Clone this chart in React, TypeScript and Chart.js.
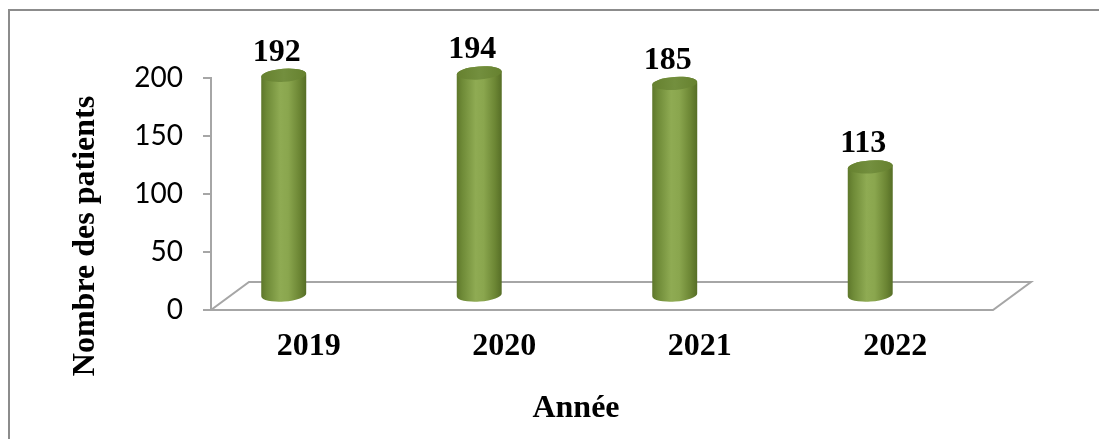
import React, { useEffect, useRef } from "react";
import { Chart, registerables } from "chart.js";

Chart.register(...registerables);

const categories = ["2019", "2020", "2021", "2022"];
const patients = [192, 194, 185, 113];
const yTicks = [0, 50, 100, 150, 200];
const yTitle = "Nombre des patients";
const xTitle = "Année";

const SERIF = "'Liberation Serif', 'Times New Roman', serif";
const SANS = "Lato, 'Open Sans', sans-serif";

const decorPlugin = {
  id: "decor",
  beforeDraw(chart: any) {
    const ctx = chart.ctx;
    ctx.save();
    ctx.fillStyle = "#ffffff";
    ctx.fillRect(0, 0, chart.width, chart.height);
    ctx.strokeStyle = "#8c8c8c";
    ctx.lineWidth = 2;
    ctx.beginPath();
    ctx.moveTo(9, chart.height);
    ctx.lineTo(9, 10);
    ctx.lineTo(chart.width, 10);
    ctx.stroke();
    ctx.restore();
  },
  beforeDatasetsDraw(chart: any) {
    const ctx = chart.ctx;
    const y = chart.scales.y;
    const area = chart.chartArea;
    const y0 = y.getPixelForValue(0);
    const dx = 38, dy = -28;
    ctx.save();
    ctx.strokeStyle = "#a6a6a6";
    ctx.lineWidth = 2;
    ctx.beginPath();
    ctx.moveTo(area.left, y0);
    ctx.lineTo(area.right, y0);
    ctx.lineTo(area.right + dx, y0 + dy);
    ctx.lineTo(area.left + dx, y0 + dy);
    ctx.closePath();
    ctx.stroke();
    ctx.restore();
  },
  afterDatasetsDraw(chart: any) {
    const ctx = chart.ctx;
    const y = chart.scales.y;
    const meta = chart.getDatasetMeta(0);
    const values = chart.data.datasets[0].data as number[];
    const hw = 22.5;
    const ry = 6.5;
    const tilt = -0.07;
    meta.data.forEach((el: any, i: number) => {
      const cx = el.x - 25;
      const topY = y.getPixelForValue(values[i]) - 12;
      const baseY = y.getPixelForValue(0) - 15;
      const g = ctx.createLinearGradient(cx - hw, 0, cx + hw, 0);
      g.addColorStop(0, "#5e772b");
      g.addColorStop(0.12, "#6e8a37");
      g.addColorStop(0.42, "#8fab53");
      g.addColorStop(0.6, "#8aa64e");
      g.addColorStop(0.85, "#6c8634");
      g.addColorStop(1, "#566e26");
      ctx.save();
      ctx.fillStyle = g;
      ctx.beginPath();
      ctx.moveTo(cx - hw, topY);
      ctx.lineTo(cx - hw, baseY);
      ctx.ellipse(cx, baseY, hw, ry, tilt, Math.PI, 0, true);
      ctx.lineTo(cx + hw, topY);
      ctx.ellipse(cx, topY, hw, ry, tilt, 0, Math.PI, true);
      ctx.closePath();
      ctx.fill();
      const tg = ctx.createLinearGradient(cx - hw, topY, cx + hw, topY);
      tg.addColorStop(0, "#66812f");
      tg.addColorStop(0.5, "#738f3e");
      tg.addColorStop(1, "#66812f");
      ctx.fillStyle = tg;
      ctx.beginPath();
      ctx.ellipse(cx, topY, hw, ry, tilt, 0, Math.PI * 2);
      ctx.fill();
      ctx.fillStyle = "#000000";
      ctx.font = "bold 32px " + SERIF;
      ctx.textAlign = "center";
      ctx.textBaseline = "alphabetic";
      ctx.fillText(String(values[i]), cx - 7, topY - ry - 8);
      ctx.restore();
    });
  },
  afterDraw(chart: any) {
    const ctx = chart.ctx;
    ctx.save();
    ctx.fillStyle = "#000000";
    ctx.font = "bold 32px " + SERIF;
    ctx.textAlign = "center";
    ctx.textBaseline = "middle";
    ctx.fillText(xTitle, 576, 409);
    ctx.translate(86, 236);
    ctx.rotate(-Math.PI / 2);
    ctx.fillText(yTitle, 0, 0);
    ctx.restore();
  },
};

export default function App() {
  const ref = useRef<HTMLCanvasElement | null>(null);
  useEffect(() => {
    if (!ref.current) return;
    const chart = new Chart(ref.current, {
      type: "bar",
      data: {
        labels: categories,
        datasets: [
          {
            data: patients,
            backgroundColor: "rgba(0,0,0,0)",
            borderWidth: 0,
          },
        ],
      },
      options: {
        responsive: false,
        animation: false,
        devicePixelRatio: 1,
        layout: { autoPadding: false, padding: { left: 0, top: 78, right: 106, bottom: 0 } },
        plugins: { legend: { display: false }, tooltip: { enabled: false } },
        scales: {
          x: {
            grid: { display: false, drawTicks: false },
            border: { display: false },
            ticks: {
              color: "#000000",
              font: { family: SERIF, size: 32, weight: "bold" },
              padding: 18,
              maxRotation: 0,
            },
            afterFit: (s: any) => {
              s.height = 129;
            },
          },
          y: {
            min: 0,
            max: 200,
            afterBuildTicks: (s: any) => {
              s.ticks = yTicks.map((v) => ({ value: v }));
            },
            grid: { drawOnChartArea: false, drawTicks: true, tickLength: 8, color: "#a6a6a6", lineWidth: 2 },
            border: { display: true, color: "#a6a6a6", width: 2 },
            ticks: {
              color: "#000000",
              font: { family: SANS, size: 28 },
              padding: 20,
            },
            afterFit: (s: any) => {
              s.width = 211;
            },
          },
        },
      },
      plugins: [decorPlugin],
    });
    return () => chart.destroy();
  }, []);
  return (
    <div style={{ position: "fixed", left: 0, top: 0, width: 1099, height: 439, background: "#fff" }}>
      <canvas ref={ref} width={1099} height={439} style={{ display: "block" }} />
    </div>
  );
}
